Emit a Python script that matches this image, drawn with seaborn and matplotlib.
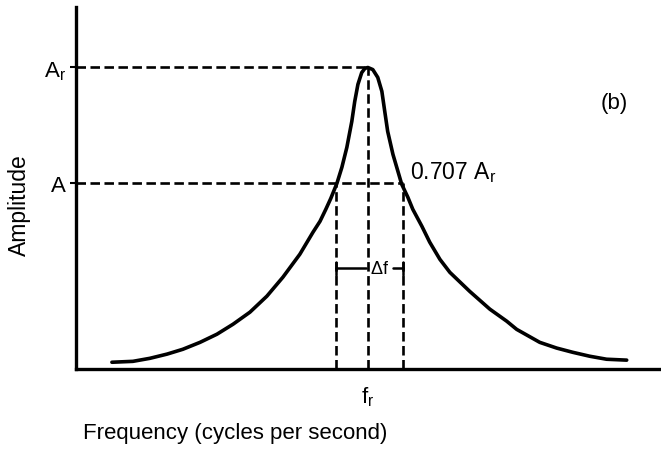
import numpy as np
import pandas as pd
import matplotlib
matplotlib.use("Agg")
import matplotlib.pyplot as plt
import seaborn as sns

# --- datos (frecuencia relativa f/fr, amplitud relativa A/Ar) ---
frecuencia = [0.123, 0.195, 0.253, 0.312, 0.366, 0.425, 0.483, 0.538, 0.596,
              0.654, 0.709, 0.767, 0.812, 0.836, 0.856, 0.873, 0.894, 0.911,
              0.928, 0.945, 0.955, 0.966, 0.979, 0.990, 1.000, 1.017, 1.034,
              1.048, 1.058, 1.068, 1.086, 1.103, 1.116, 1.137, 1.154, 1.185,
              1.212, 1.247, 1.281, 1.349, 1.418, 1.476, 1.510, 1.589, 1.647,
              1.702, 1.760, 1.818, 1.887]
amplitud = [0.023, 0.026, 0.036, 0.050, 0.066, 0.089, 0.116, 0.149, 0.189,
            0.242, 0.305, 0.381, 0.454, 0.490, 0.530, 0.566, 0.616, 0.669,
            0.735, 0.821, 0.887, 0.944, 0.983, 0.997, 1.000, 0.993, 0.967,
            0.921, 0.854, 0.788, 0.712, 0.656, 0.613, 0.570, 0.530, 0.474,
            0.421, 0.364, 0.321, 0.258, 0.199, 0.159, 0.132, 0.089, 0.070,
            0.056, 0.043, 0.033, 0.030]

f_r = 1.0
f_1 = 0.890
f_2 = 1.120
A_r = 1.0
A_707 = 0.616
y_delta = 0.334

etiquetas_y = [r"$\mathregular{A_r}$", "A"]
etiqueta_x = r"$\mathregular{f_r}$"

df = pd.DataFrame({"frecuencia": frecuencia, "amplitud": amplitud})

sns.set_theme(style="ticks")
plt.rcParams["font.family"] = ["Liberation Sans", "DejaVu Sans"]
for clave in ["text.color", "axes.labelcolor", "xtick.color", "ytick.color"]:
    plt.rcParams[clave] = "black"

fig = plt.figure(figsize=(6.61, 4.52), dpi=100)
ax = fig.add_axes([0.115, 0.181, 0.883, 0.801])

# curva de resonancia
sns.lineplot(data=df, x="frecuencia", y="amplitud", color="black",
             linewidth=2.6, ax=ax, estimator=None, sort=False)
ax.lines[0].set_solid_joinstyle("round")
ax.lines[0].set_solid_capstyle("round")

# lineas de referencia punteadas
dash = dict(color="black", linewidth=1.9, linestyle=(0, (3.6, 1.7)))
ax.plot([0, f_r], [A_r, A_r], **dash)
ax.plot([0, f_2], [A_707, A_707], **dash)
ax.plot([f_r, f_r], [0, A_r], **dash)
ax.plot([f_1, f_1], [0, A_707], **dash)
ax.plot([f_2, f_2], [0, A_707], **dash)

# marca del ancho de banda
solid = dict(color="black", linewidth=1.8)
ax.plot([f_1, 0.995], [y_delta, y_delta], **solid)
ax.plot([1.086, f_2], [y_delta, y_delta], **solid)
ax.plot([f_1, f_1], [y_delta - 0.022, y_delta + 0.022], **solid)
ax.plot([f_2, f_2], [y_delta - 0.022, y_delta + 0.022], **solid)
ax.text(1.04, y_delta, r"$\mathregular{\Delta f}$", ha="center", va="center",
        fontsize=13)

ax.text(1.144, 0.656, r"0.707 $\mathregular{A_r}$", ha="left", va="center",
        fontsize=16.5)
ax.text(1.846, 0.884, "(b)", ha="center", va="center", fontsize=16)

ax.set_xlim(0, 2.0)
ax.set_ylim(0, 1.2)
ax.set_yticks([A_r, A_707])
ax.set_yticklabels(etiquetas_y, fontsize=16)
ax.set_xticks([f_r])
ax.set_xticklabels([etiqueta_x], fontsize=16)
ax.tick_params(axis="y", length=4, width=1.5, pad=3)
ax.tick_params(axis="x", length=0, pad=11)

ax.set_xlabel("Frequency (cycles per second)", fontsize=16)
ax.set_ylabel("Amplitude", fontsize=16.5)
ax.xaxis.set_label_coords(0.272, -0.145)
ax.yaxis.set_label_coords(-0.077, 0.456)

sns.despine(ax=ax)
for lado in ["left", "bottom"]:
    ax.spines[lado].set_linewidth(2.4)
    ax.spines[lado].set_color("black")

fig.savefig("out.png", dpi=100)
